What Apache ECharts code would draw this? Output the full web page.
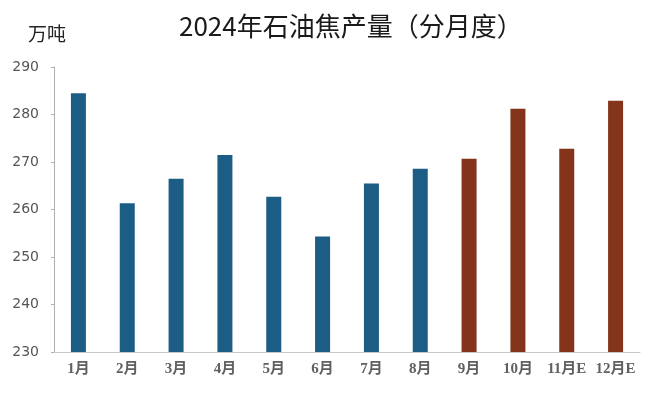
<!DOCTYPE html>
<html>
<head>
<meta charset="utf-8">
<script src="https://cdn.jsdelivr.net/npm/echarts@6/dist/echarts.min.js"></script>
<style>
  html, body { margin: 0; padding: 0; background: #fff; }
  #chart { width: 660px; height: 398px; }
</style>
</head>
<body>
<div id="chart"></div>
<script>
const months = ['1月', '2月', '3月', '4月', '5月', '6月', '7月', '8月', '9月', '10月', '11月E', '12月E']
const output = [284.5, 261.3, 266.5, 271.5, 262.7, 254.3, 265.5, 268.6, 270.7, 281.2, 272.8, 282.9]
// 前8个月为实际值，后面用另一种颜色
const actualCount = 8
const yTicks = [230, 240, 250, 260, 270, 280, 290]

const blue = '#1b5d84'
const brown = '#83341a'

const chart = echarts.init(document.getElementById('chart'))
const option = {
  animation: false,
  title: {
    text: '2024年石油焦产量（分月度）',
    left: 174,
    top: 8,
    textStyle: {
      fontSize: 26,
      fontWeight: 'normal',
      color: '#1a1a1a',
      fontFamily: 'Noto Sans CJK SC'
    }
  },
  graphic: [{
    type: 'text',
    left: 28,
    top: 24,
    style: {
      text: '万吨',
      fontSize: 19,
      fill: '#222',
      fontFamily: 'Noto Sans CJK SC'
    }
  }],
  grid: {
    left: 54,
    right: 20,
    top: 67,
    bottom: 46
  },
  xAxis: {
    type: 'category',
    data: months,
    axisLine: { lineStyle: { color: '#c8c8c8' } },
    axisTick: { show: false },
    axisLabel: {
      interval: 0,
      color: '#606060',
      fontSize: 15,
      fontWeight: 'bold',
      fontFamily: 'Liberation Serif, Noto Sans CJK SC',
      margin: 10
    }
  },
  yAxis: {
    type: 'value',
    min: yTicks[0],
    max: yTicks[yTicks.length - 1],
    interval: 10,
    axisLine: { show: true, lineStyle: { color: '#b0b0b0' } },
    axisTick: { show: true, length: 3, lineStyle: { color: '#b0b0b0' } },
    splitLine: { show: false },
    axisLabel: {
      color: '#555',
      fontSize: 14,
      fontFamily: 'DejaVu Sans',
      margin: 15
    }
  },
  series: [{
    type: 'bar',
    barWidth: 15,
    data: output.map((v, i) => ({
      value: v,
      itemStyle: { color: i < actualCount ? blue : brown }
    }))
  }]
}
chart.setOption(option)
</script>
</body>
</html>
